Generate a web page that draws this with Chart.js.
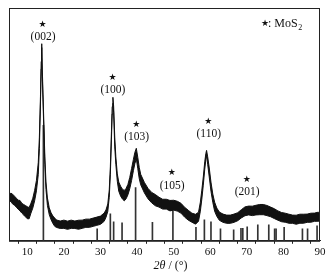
<!DOCTYPE html>
<html>
<head>
<meta charset="utf-8">
<script src="https://cdn.jsdelivr.net/npm/chart.js@4/dist/chart.umd.min.js"></script>
<style>
  html, body { margin: 0; padding: 0; background: #fff; }
  #wrap { width: 336px; height: 274px; }
</style>
</head>
<body>
<div id="wrap"><canvas id="xrdChart" width="336" height="274"></canvas></div>
<script>
// patron XRD MoS2 - banda de ruido como envolvente superior / inferior
const twoTheta = [5, 5.5, 6, 6.5, 7, 7.5, 8, 8.5, 9, 9.5, 10, 10.5, 11, 11.5, 12, 12.5, 13, 13.3, 13.6, 13.8, 13.9, 14.0, 14.2, 14.5, 14.8, 15.1, 15.5, 16, 16.5, 17, 17.5, 18, 19, 20, 21, 22, 23, 24, 25, 26, 27, 28, 29, 30, 31, 31.5, 32, 32.4, 32.7, 33.0, 33.2, 33.4, 33.6, 33.9, 34.2, 34.6, 35.0, 35.5, 36.0, 36.5, 37.0, 37.5, 38.0, 38.5, 39.0, 39.4, 39.8, 40.2, 40.6, 41.0, 42, 43, 44, 45, 46, 47, 48, 49, 50, 51, 52, 53, 54, 55, 56, 56.8, 57.3, 57.7, 58.1, 58.5, 58.8, 59.0, 59.3, 59.7, 60.2, 60.7, 61.2, 61.8, 62.5, 63.5, 64.5, 65.5, 66.5, 67.5, 68.5, 69.5, 70.5, 71.5, 72.5, 73.5, 74.5, 75.5, 76.5, 77.5, 78.5, 79.5, 80.5, 81.5, 82.5, 83.5, 84.5, 85.5, 86.5, 87.5, 88.5, 89.5, 90];
const intensityHigh = [457, 476, 464, 445, 425, 405, 402, 374, 362, 351, 340, 331, 374, 424, 502, 602, 780, 1031, 1437, 1787, 1964, 1890, 1587, 1207, 837, 587, 427, 329, 279, 247, 226, 207, 197, 206, 196, 206, 197, 205, 206, 216, 216, 226, 236, 246, 276, 307, 367, 507, 737, 1087, 1337, 1430, 1340, 1034, 837, 667, 585, 544, 514, 502, 522, 562, 631, 720, 811, 881, 922, 831, 731, 662, 582, 522, 482, 461, 434, 414, 414, 402, 404, 394, 374, 334, 304, 275, 264, 285, 385, 505, 636, 787, 870, 901, 837, 735, 585, 466, 385, 326, 286, 266, 256, 256, 266, 280, 310, 338, 346, 345, 354, 362, 362, 352, 336, 320, 298, 282, 275, 265, 256, 255, 265, 265, 266, 275, 276, 285, 276];
const intensityLow = [383, 394, 366, 355, 335, 315, 298, 276, 258, 239, 220, 219, 276, 326, 398, 498, 660, 919, 1363, 1713, 1926, 1830, 1513, 1133, 763, 513, 353, 261, 211, 173, 144, 133, 123, 124, 114, 124, 123, 115, 124, 134, 134, 144, 154, 164, 194, 233, 293, 433, 663, 1013, 1263, 1370, 1280, 936, 763, 593, 495, 446, 416, 398, 418, 458, 519, 600, 699, 769, 818, 719, 619, 558, 478, 418, 378, 349, 336, 316, 316, 298, 306, 296, 276, 236, 206, 185, 166, 195, 295, 415, 554, 713, 810, 849, 763, 645, 495, 384, 295, 244, 204, 184, 174, 174, 184, 200, 228, 250, 258, 251, 258, 260, 260, 251, 240, 222, 205, 190, 185, 175, 174, 165, 175, 175, 184, 185, 194, 195, 194];

// lineas de referencia (JCPDS MoS2)
const refPositions = [14.4, 29.1, 32.7, 33.6, 35.9, 39.6, 44.2, 49.8, 56.1, 58.4, 60.2, 62.8, 66.4, 68.4, 68.9, 70.1, 73.0, 76.0, 77.6, 78.0, 80.2, 85.2, 86.6, 89.2];
const refHeights = [1150, 120, 270, 190, 180, 530, 183, 380, 133, 210, 190, 120, 110, 125, 125, 140, 160, 160, 120, 120, 133, 120, 120, 150];

// etiquetas de picos
const peakLabels = ['(002)', '(100)', '(103)', '(105)', '(110)', '(201)'];
const peakLabelX = [14.3, 33.4, 39.9, 49.6, 59.6, 70.1];
const peakLabelY = [2030, 1500, 1030, 550, 1060, 483];

const tickLabels = [10, 20, 30, 40, 50, 60, 70, 80, 90];

const serif = '"Liberation Serif", "Times New Roman", serif';
const starFont = '9px "DejaVu Sans"';

const annotationPlugin = {
    id: 'xrdAnnotations',
    afterDraw(chart) {
        const ctx = chart.ctx;
        const area = chart.chartArea;
        const xs = chart.scales.x;
        const ys = chart.scales.y;
        ctx.save();
        // marco
        ctx.strokeStyle = '#222';
        ctx.lineWidth = 1;
        ctx.strokeRect(area.left + 0.5, area.top + 0.5, area.right - area.left - 1, area.bottom - area.top);

        ctx.fillStyle = '#111';
        ctx.textAlign = 'center';
        ctx.textBaseline = 'middle';
        peakLabels.forEach((lbl, i) => {
            const px = xs.getPixelForValue(peakLabelX[i]);
            const py = ys.getPixelForValue(peakLabelY[i]);
            ctx.font = '11.5px ' + serif;
            ctx.fillText(lbl, px, py);
            ctx.font = starFont;
            ctx.fillText('\u2605', px - 0.5, py - 12.5);
        });

        // leyenda
        const lx = area.right - 59;
        const ly = area.top + 16;
        ctx.textAlign = 'left';
        ctx.font = starFont;
        ctx.fillText('\u2605', lx, ly);
        ctx.font = '12px ' + serif;
        ctx.fillText(': MoS', lx + 7, ly);
        const w = ctx.measureText(': MoS').width;
        ctx.font = '8px ' + serif;
        ctx.fillText('2', lx + 7 + w + 0.5, ly + 4);

        // titulo eje x
        const t1 = '2\u03b8';
        const t2 = ' / (\u00b0)';
        ctx.font = 'italic 12px ' + serif;
        const w1 = ctx.measureText(t1).width;
        ctx.font = '12px ' + serif;
        const w2 = ctx.measureText(t2).width;
        const cx = (area.left + area.right) / 2 + 6;
        const sx = cx - (w1 + w2) / 2;
        const ty = area.bottom + 25;
        ctx.font = 'italic 12px ' + serif;
        ctx.fillText(t1, sx, ty);
        ctx.font = '12px ' + serif;
        ctx.fillText(t2, sx + w1, ty);
        ctx.restore();
    }
};

const ctx = document.getElementById('xrdChart');
new Chart(ctx, {
    type: 'line',
    data: {
        datasets: [
            {
                type: 'line',
                data: twoTheta.map((x, i) => ({ x: x, y: intensityHigh[i] })),
                borderColor: '#111',
                borderWidth: 1,
                backgroundColor: '#111',
                fill: '+1',
                pointRadius: 0,
                tension: 0,
                order: 1
            },
            {
                type: 'line',
                data: twoTheta.map((x, i) => ({ x: x, y: intensityLow[i] })),
                borderColor: '#111',
                borderWidth: 1,
                pointRadius: 0,
                tension: 0,
                fill: false,
                order: 2
            },
            {
                type: 'bar',
                data: refPositions.map((x, i) => ({ x: x, y: refHeights[i] })),
                backgroundColor: '#333',
                barThickness: 1,
                grouped: false,
                order: 3
            }
        ]
    },
    options: {
        responsive: false,
        animation: false,
        events: [],
        layout: {
            padding: { left: 9, right: 16, top: 8, bottom: 13 }
        },
        scales: {
            x: {
                type: 'linear',
                min: 5,
                max: 90,
                offset: false,
                border: { display: true, color: '#222', width: 1 },
                grid: {
                    display: true,
                    drawOnChartArea: false,
                    drawTicks: true,
                    tickLength: 3,
                    color: '#222'
                },
                ticks: {
                    stepSize: 5,
                    autoSkip: false,
                    maxRotation: 0,
                    padding: 2,
                    color: '#111',
                    font: { family: serif, size: 11 },
                    callback: v => (tickLabels.includes(v) ? String(v) : '')
                }
            },
            y: {
                display: false,
                min: 0,
                max: 2320
            }
        },
        plugins: {
            legend: { display: false },
            tooltip: { enabled: false }
        }
    },
    plugins: [annotationPlugin]
});
</script>
</body>
</html>
